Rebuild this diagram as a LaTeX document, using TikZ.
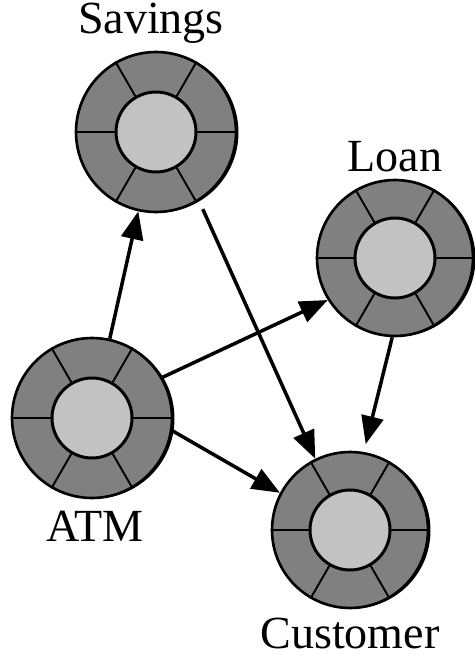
\documentclass[tikz,border=0pt]{standalone}
\usepackage{fontspec}
\setmainfont{Liberation Serif}
\usetikzlibrary{arrows.meta,positioning,shadows}

\begin{document}
\begin{tikzpicture}[
    x=0.02cm, y=-0.02cm,
    node distance=0.2cm,
    acct/.style={circle, draw, line width=1.5pt, fill=black!50, minimum size=3.2cm, inner sep=0pt,
        drop shadow={shadow xshift=0.05cm, shadow yshift=-0.01cm, fill=black, opacity=1}},
    core/.style={circle, draw, line width=1.7pt, fill=black!24, minimum size=1.6cm, inner sep=0pt},
    spoke/.style={line width=1.1pt},
    lbl/.style={inner sep=0pt, font=\fontsize{26.2}{30}\selectfont},
    flow/.style={line width=2pt, -{Triangle[length=0.56cm, width=0.44cm]}}
]
\useasboundingbox (0,0) rectangle (474,656);

% objects
\node[acct] (sav) at (156,132) {};
\node[acct, minimum size=3.12cm] (loan) at (395,258) {};
\node[acct] (atm) at (92,418) {};
\node[acct, minimum size=3.12cm] (cust) at (350,530) {};

% inner core and ring segments
\foreach \n in {sav,loan,atm,cust}{
    \node[core] (\n-c) at (\n) {};
    \foreach \a in {0,60,...,300}
        \draw[spoke] (\n-c.\a) -- (\n.\a);
}

% names
\node[lbl, above=0.13cm of sav, xshift=-0.1cm] (sav-t) {Savings};
\node[lbl, above=0.12cm of loan] (loan-t) {Loan};
\node[lbl, below=0.22cm of atm, xshift=0.06cm] (atm-t) {ATM};
\node[lbl, below=0.17cm of cust] (cust-t) {Customer};

% messages
\draw[flow] (atm) -- (sav);
\draw[flow] (atm.30) -- (loan.212);
\draw[flow] (atm.-9) -- (cust.152);
\draw[flow, shorten <=0.18cm] (sav.-58) -- (cust.116);
\draw[flow, shorten >=0.16cm] (loan.-92) -- (cust.80);
\end{tikzpicture}
\end{document}
